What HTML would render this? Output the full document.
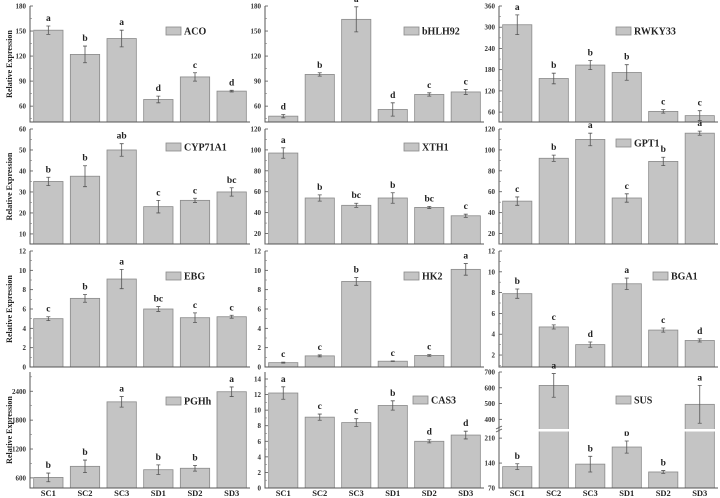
<!DOCTYPE html>
<html><head><meta charset="utf-8"><style>
html,body{margin:0;padding:0;background:#fff;}
svg{display:block;font-family:"Liberation Serif",serif;font-weight:bold;}
</style></head><body>
<svg id="chart" width="720" height="498" viewBox="0 0 720 498" xmlns="http://www.w3.org/2000/svg"></svg>
<script>
const categories=["SC1","SC2","SC3","SD1","SD2","SD3"];
const genes=["ACO","bHLH92","RWKY33","CYP71A1","XTH1","GPT1","EBG","HK2","BGA1","PGHh","CAS3","SUS"];
const acoValues=[151,122,141,68,95,78]; const acoErrors=[5,10,10,4,5,1]; const acoLetters=["a","b","a","d","c","d"];
const bhlhValues=[48,98,164,56,74,77]; const bhlhErrors=[2,2,15,8,2,3]; const bhlhLetters=["d","b","a","d","c","c"];
const rwkyValues=[307,155,193,172,62,50]; const rwkyErrors=[28,15,13,22,5,14]; const rwkyLetters=["a","b","b","b","c","c"];
const cypValues=[35,37.5,50,23,26,30]; const cypErrors=[2,5,3,3,1,2]; const cypLetters=["b","b","ab","c","c","bc"];
const xthValues=[97,54,47,54,45,37]; const xthErrors=[5,3,2,5,1,1.5]; const xthLetters=["a","b","bc","b","bc","c"];
const gptValues=[51,92,110,54,89,116]; const gptErrors=[4,3,6,4,4,2]; const gptLetters=["c","b","a","c","b","a"];
const ebgValues=[5,7.1,9.1,6.0,5.1,5.2]; const ebgErrors=[0.2,0.4,1,0.25,0.5,0.15]; const ebgLetters=["c","b","a","bc","c","c"];
const hk2Values=[0.45,1.15,8.85,0.6,1.2,10.1]; const hk2Errors=[0.05,0.1,0.4,0.03,0.08,0.6]; const hk2Letters=["c","c","b","c","c","a"];
const bgaValues=[7.9,4.7,3.0,8.85,4.4,3.4]; const bgaErrors=[0.45,0.2,0.25,0.55,0.2,0.15]; const bgaLetters=["b","c","d","a","c","d"];
const pghValues=[610,840,2180,770,800,2390]; const pghErrors=[90,130,110,100,60,100]; const pghLetters=["b","b","a","b","b","a"];
const casValues=[12.2,9.1,8.4,10.6,6.0,6.8]; const casErrors=[0.8,0.4,0.5,0.6,0.2,0.5]; const casLetters=["a","c","c","b","d","d"];
const susValues=[130,615,137,185,115,495]; const susErrors=[8,75,22,17,4,120]; const susLetters=["b","a","b","b","b","a"];
const acoTicks=[60,90,120,150,180]; const rwkyTicks=[60,120,180,240,300,360];
const cypTicks=[10,20,30,40,50,60]; const xthTicks=[20,40,60,80,100,120];
const ebgTicks=[0,2,4,6,8,10,12]; const bgaTicks=[2,4,6,8,10,12];
const pghTicks=[600,1200,1800,2400]; const casTicks=[0,2,4,6,8,10,12,14];
const susLowTicks=[70,140,210]; const susHighTicks=[400,500,600,700];

const svg=document.getElementById('chart');
const NS="http://www.w3.org/2000/svg";
function mk(tag,attrs,parent){const e=document.createElementNS(NS,tag);for(const k in attrs)e.setAttribute(k,attrs[k]);(parent||svg).appendChild(e);return e;}
const colX=[[30,250],[265,484],[499,718]];
const rowY=[[6,122],[129,244],[251,367],[372,488]];
const legendPos=[[166,31],[404,31],[616,31],[166,147],[404,147],[616,143],[166,276],[404,276],[653,276],[166,401],[413,400],[616,400]];
const panels=[
 {v:acoValues,e:acoErrors,l:acoLetters,min:41,max:180,t:acoTicks},
 {v:bhlhValues,e:bhlhErrors,l:bhlhLetters,min:41,max:180,t:acoTicks},
 {v:rwkyValues,e:rwkyErrors,l:rwkyLetters,min:32,max:360,t:rwkyTicks},
 {v:cypValues,e:cypErrors,l:cypLetters,min:5.2,max:60,t:cypTicks},
 {v:xthValues,e:xthErrors,l:xthLetters,min:10,max:120,t:xthTicks},
 {v:gptValues,e:gptErrors,l:gptLetters,min:10,max:120,t:xthTicks},
 {v:ebgValues,e:ebgErrors,l:ebgLetters,min:0,max:12,t:ebgTicks},
 {v:hk2Values,e:hk2Errors,l:hk2Letters,min:0,max:12,t:ebgTicks},
 {v:bgaValues,e:bgaErrors,l:bgaLetters,min:0.85,max:12,t:bgaTicks},
 {v:pghValues,e:pghErrors,l:pghLetters,min:390,max:2800,t:pghTicks},
 {v:casValues,e:casErrors,l:casLetters,min:0,max:14.9,t:casTicks},
 {v:susValues,e:susErrors,l:susLetters,sus:true}
];
panels.forEach((p,i)=>{
  const c=i%3,r=Math.floor(i/3);
  const [x0,x1]=colX[c],[yt,yb]=rowY[r];
  const g=mk('g',{});
  
  
  let y;
  if(p.sus){
    y=v=> v<=300 ? 488-(v-70)/(230-70)*(488-431) : 428-(Math.min(v,700)-345)/(700-345)*(428-372);
  } else y=v=>yb-(v-p.min)/(p.max-p.min)*(yb-yt);
  const bw=(x1-x0)/6;
  // bars
  p.v.forEach((v,k)=>{
    const bx=x0+bw*k+bw*0.1, w=bw*0.8, top=y(v);
    const b=mk('rect',{x:bx,y:top,width:w,height:yb-top,fill:'#c4c4c4',stroke:'#8a8a8a','stroke-width':0.8},g);
    
    
    const cx=bx+w/2, ye1=y(v+p.e[k]), ye0=y(v-p.e[k]);
    const eb=mk('path',{d:`M${cx},${ye0}V${ye1}M${cx-2},${ye0}H${cx+2}M${cx-2},${ye1}H${cx+2}`,stroke:'#555','stroke-width':0.8,fill:'none'},g);
    
    
    const lt=mk('text',{x:cx,y:ye1-5,'text-anchor':'middle','font-size':9.5,fill:'#222'},g);
    lt.textContent=p.l[k];
    
    
    if(r===3){
      const xl=mk('text',{x:cx,y:496,'text-anchor':'middle','font-size':8.5,fill:'#222'},g);
      xl.textContent=categories[k];
      
      
    }
  });
  if(p.sus){
    const gap=mk('rect',{x:x0+1,y:429,width:x1-x0,height:2.5,fill:'#fff'},g);
    
    
  }
  // axes
  const ax=mk('path',{d:`M${x0},${yt}V${yb}H${x1}`,stroke:'#555','stroke-width':1,fill:'none'},g);
  
  
  const ticks=p.sus?susLowTicks.concat(susHighTicks):p.t;
  ticks.forEach(t=>{
    const ty=y(t);
    mk('line',{x1:x0,x2:x0+3,y1:ty,y2:ty,stroke:'#555','stroke-width':0.8},g);
    const tl=mk('text',{x:x0-4,y:ty+2.5,'text-anchor':'end','font-size':7,fill:'#333'},g);
    tl.textContent=t;
    
    
  });
  if(!p.sus){
    const step=p.t[1]-p.t[0];
    for(let t=p.t[0]-step/2;t<=p.max;t+=step){ if(t>=p.min) mk('line',{x1:x0,x2:x0+2,y1:y(t),y2:y(t),stroke:'#777','stroke-width':0.6},g);}
  } else {
    mk('path',{d:`M${x0-3},${432}l6,-3M${x0-3},${429}l6,-3`,stroke:'#555','stroke-width':0.8},g);
  }
  // legend
  const [lx,ly]=legendPos[i];
  const lb=mk('rect',{x:lx,y:ly-4,width:15,height:8,fill:'#c4c4c4',stroke:'#8a8a8a','stroke-width':0.8},g);
  
  
  const ll=mk('text',{x:lx+18,y:ly+3.5,'font-size':10,fill:'#222'},g);
  ll.textContent=genes[i];
  
  
  if(c===0){
    const yl=mk('text',{x:0,y:0,'text-anchor':'middle','font-size':8,fill:'#222',transform:`translate(12,${(yt+yb)/2}) rotate(-90)`},g);
    yl.textContent='Relative Expression';
    
    
  }
});
</script>
</body></html>
